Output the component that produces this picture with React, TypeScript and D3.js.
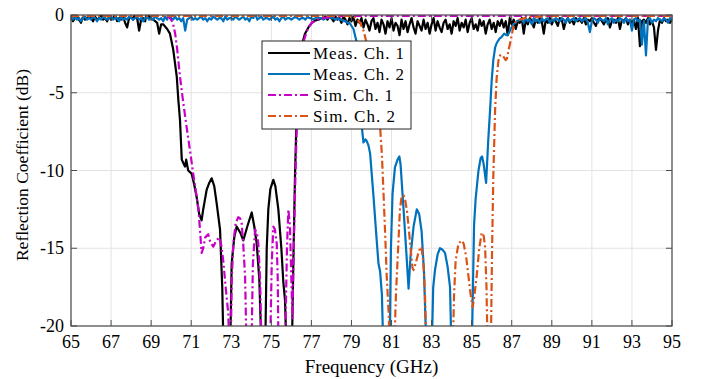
import * as d3 from "d3";

type Pt = [number, number];

const xTicks = [65, 67, 69, 71, 73, 75, 77, 79, 81, 83, 85, 87, 89, 91, 93, 95];
const yTicks = [0, -5, -10, -15, -20];
const seriesNames = ["Meas. Ch. 1", "Meas. Ch. 2", "Sim. Ch. 1", "Sim. Ch. 2"];
const seriesColors = ["#000000", "#0072BD", "#C800C8", "#D95319"];
const seriesDash = [null, null, "8,3,2,3", "8,3,2,3"];
const legendTextWidths = [91, 91, 80, 82];

// measured ripple sampled every 0.1 GHz
const meas1NoiseA = [
  -0.1, -0.4, -0.2, 0.1, -0.3, -0.5, -0.1, -0.3, -0.2, 0.0,
  -0.2, -0.4, -0.1, -0.3, -0.2, 0.1, -0.3, -0.2, -0.4, -0.1,
  -0.3, -0.2, 0.0, -0.4, -0.2, -0.3, -0.1, -0.5, -0.8, -0.2,
  -0.1, -0.3, 0.1, -0.2, -1.0, -0.3, -0.2, -0.4, 0.3, -0.1,
  -0.2, -0.3, -0.4, -0.5, -1.2, -0.6,
];
const meas1Drop: Pt[] = [
  [69.6, -0.6], [69.8, -0.9], [69.94, -1.2], [70.1, -2.2], [70.28, -3.97], [70.36, -5.5],
  [70.44, -6.75], [70.53, -9.3], [70.6, -9.5], [70.69, -9.75], [70.75, -9.3], [70.85, -10.0],
  [71.02, -10.2], [71.15, -10.9], [71.27, -11.7], [71.4, -12.8], [71.52, -13.2], [71.6, -12.5],
  [71.77, -11.25], [71.9, -10.8], [72.02, -10.5], [72.15, -11.0], [72.27, -12.1], [72.44, -13.8],
  [72.55, -17.5], [72.62, -22], [72.94, -22], [73.02, -16], [73.15, -14.3], [73.27, -13.6],
  [73.45, -14.0], [73.6, -14.5], [73.8, -13.6], [74.02, -12.7], [74.15, -13.6], [74.27, -14.7],
  [74.4, -17], [74.52, -22], [74.69, -22], [74.77, -15], [74.85, -12.5], [74.95, -11.2],
  [75.1, -10.6], [75.2, -11.0], [75.35, -12.5], [75.5, -15], [75.6, -17.2], [75.68, -18.3],
  [75.77, -22], [76.02, -22], [76.1, -15.8], [76.18, -10.4], [76.27, -6.1], [76.35, -4.2],
  [76.43, -2.9], [76.55, -1.8], [76.68, -1.2], [76.85, -0.8], [77.02, -0.5], [77.2, -0.35],
  [77.35, -0.3], [77.5, -0.2],
];
const meas1NoiseB = [
  -0.2, -0.1, -0.3, -0.1, -0.2, -0.4, -0.1, -0.3, -0.2, -0.5,
  -0.1, -0.3, -0.6, -0.2, -0.4, -0.1, -0.7, -0.3, -0.5, -0.2,
  -0.8, -0.3, -0.6, -1.0, -0.4, -0.2, -0.9, -0.5, -1.1, -0.3,
  -0.6, -1.2, -0.4, -0.8, -0.2, -1.0, -0.5, -0.7, -1.3, -0.3,
  -0.9, -0.4, -1.1, -0.6, -0.2, -0.8, -1.2, -0.4, -0.7, -1.0,
  -0.3, -0.9, -0.5, -1.2, -0.6, -0.2, -1.0, -0.4, -0.8, -1.1,
  -0.5, -0.3, -0.9, -0.6, -1.2, -0.4, -0.7, -0.2, -1.0, -0.5,
  -0.8, -0.3, -1.1, -0.5, -0.2, -0.9, -0.6, -1.0, -0.3, -0.7,
  -0.4, -1.2, -0.6, -0.3, -0.9, -0.5, -1.1, -0.4, -0.7, -0.3,
  -0.8, -0.4, -1.3, -0.2, -0.6, -0.3, -0.9, -0.4, -0.5, -0.2,
  -1.2, -0.3, -0.6, -0.2, -0.4, -0.8, -0.3, -0.5, -0.2, -0.4,
  -1.2, -0.3, -0.5, -0.2, -0.6, -0.3, -0.4, -0.7, -0.2, -0.3,
  -0.9, -0.4, -0.2, -0.5, -0.3, -0.6, -0.2, -0.4, -0.3, -0.5,
  -0.2, -0.6, -0.3, -0.4, -0.2, -0.5, -0.7, -0.3, -0.2, -0.4,
  -0.6, -0.3, -0.2, -0.8, -0.4, -0.3, -0.5, -0.2, -0.9, -0.3,
  -0.4, -0.2, -0.6, -0.3, -0.5, -0.3, -0.9, -0.2, -2.0, -0.4,
  -0.3, -0.5, -0.2, -0.6, -0.4, -0.8, -2.25, -1.0, -0.3, -0.5,
  -0.2, -0.4, -0.3, -0.5, -0.3,
];

const meas2NoiseA = [
  -0.2, -0.3, -0.1, -0.3, -0.2, -0.4, -0.2, -0.1, -0.3, -0.2,
  -0.3, -0.1, -0.2, -0.4, -0.2, -0.3, -0.1, -0.2, -0.3, -0.2,
  -0.1, -0.3, -0.2, -0.2, -0.4, -0.1, -0.3, -0.2, -0.3, -0.1,
  -0.2, -0.3, -0.2, -0.1, -0.3, -0.2, -0.4, -0.2, -0.1, -0.3,
  -0.2, -0.3, -0.1, -0.2, -0.3, -0.2, -0.4, -0.1, -0.3, 0.2,
  -0.2, -0.3, -0.1, -0.3, -0.2, -0.4, -0.2, -1.0, -0.3, -0.2,
  -0.1, -0.3, -0.2, -0.3, -0.2, -0.1, -0.3, -0.2, -0.4, -0.2,
  -0.3, -0.1, -0.2, -0.3, -0.2, -0.2, -0.4, -0.1, -0.3, -0.2,
  -0.2, -0.3, -0.1, -0.2, -0.3, -0.2, -0.1, -0.3, -0.2, -0.4,
  -0.1, -0.2, 0.1, -0.3, -0.2, -0.1, -0.3, -0.2, -0.2, -0.3,
  -0.2, -0.1, -0.3, -0.2, -0.4, -0.2, -0.1, -0.3, -0.2, -0.2,
  -0.3, -0.2, -0.1, -0.2, -0.3, -0.2, -0.2, -0.3, -0.1, -0.2,
  -0.2, -0.3, -0.2, -0.1, -0.2, -0.2, -0.3, -0.2, -0.2, -0.1,
  -0.2, -0.2, -0.3, -0.2, -0.3, -0.3, -0.4, -0.4, -0.5,
];
const meas2Drop: Pt[] = [
  [78.9, -0.5], [79.1, -0.9], [79.27, -1.8], [79.35, -3.5], [79.43, -5.5], [79.5, -7.0],
  [79.6, -8.2], [79.7, -8.0], [79.76, -8.1], [79.85, -8.4], [79.93, -8.9], [80.09, -11.5],
  [80.26, -14.5], [80.35, -16.0], [80.43, -16.5], [80.52, -18], [80.6, -22], [80.9, -22],
  [80.97, -15], [81.05, -11.5], [81.17, -9.8], [81.3, -9.3], [81.39, -9.1], [81.45, -9.6],
  [81.6, -12.5], [81.75, -15.5], [81.85, -17.6], [81.95, -15.5], [82.1, -13.6], [82.26, -12.5],
  [82.38, -12.8], [82.5, -13.9], [82.62, -16.5], [82.75, -22], [83.0, -22], [83.08, -17.5],
  [83.17, -16.4], [83.3, -15.4], [83.42, -15.0], [83.55, -15.1], [83.67, -15.3], [83.8, -16.2],
  [83.92, -17.5], [84.0, -22], [85.0, -22], [85.12, -13.5], [85.2, -11.8], [85.34, -10.0],
  [85.45, -9.2], [85.52, -9.1], [85.6, -9.6], [85.72, -10.8], [85.83, -8.0], [85.92, -6.1],
  [86.0, -4.2], [86.08, -2.9], [86.17, -2.1], [86.25, -1.8], [86.4, -1.5], [86.5, -1.4],
  [86.62, -1.2], [86.75, -1.3], [86.84, -1.2], [86.95, -0.9], [87.08, -0.6], [87.25, -0.4],
  [87.42, -0.3],
];
const meas2NoiseB = [
  -0.3, -0.5, -0.2, -0.4, -0.3, -0.6, -0.2, -0.4, -0.3, -0.5,
  -0.2, -0.4, -0.3, -0.2, -0.5, -0.3, -0.4, -0.2, -0.3, -0.4,
  -0.2, -0.3, -0.5, -0.2, -0.4, -0.3, -0.2, -0.4, -0.3, -0.2,
  -0.4, -0.3, -0.2, -0.5, -1.1, -0.4, -0.2, -0.3, -0.5, -0.2,
  -0.3, -0.4, -0.2, -0.6, -0.3, -0.2, -0.5, -0.3, -0.4, -0.2,
  -0.3, -0.5, -0.2, -0.4, -0.3, -1.0, -0.3, -0.2, -0.4, -0.3,
  -1.9, -0.4, -2.6, -0.3, -0.2, -0.5, -0.3, -0.4, -0.2, -0.3,
  -0.4, -0.2, -0.3, -0.5, -0.2, -0.3,
];

const sim1: Pt[] = [
  [65.0, -0.05], [69.7, -0.05], [69.9, -0.15], [70.0, -0.3], [70.1, -0.6], [70.2, -1.2],
  [70.3, -2.2], [70.44, -3.97], [70.6, -5.6], [70.77, -7.2], [70.95, -8.8], [71.1, -10.2],
  [71.23, -11.3], [71.36, -12.5], [71.45, -14.0], [71.52, -15.3], [71.6, -15.0], [71.7, -14.3],
  [71.85, -14.1], [71.95, -14.6], [72.1, -14.9], [72.25, -14.5], [72.4, -14.3], [72.5, -14.8],
  [72.6, -15.8], [72.72, -17.5], [72.85, -19.2], [72.92, -22], [72.97, -22], [73.02, -17.2],
  [73.1, -14.7], [73.22, -13.4], [73.35, -13.0], [73.45, -13.1], [73.52, -13.4], [73.6, -14.8],
  [73.69, -16.8], [73.77, -22], [74.0, -22], [74.08, -16], [74.19, -13.8], [74.28, -14.0],
  [74.35, -14.7], [74.44, -17], [74.52, -22], [74.93, -22], [75.02, -16], [75.1, -13.6],
  [75.18, -13.8], [75.27, -14.7], [75.32, -17], [75.36, -22], [75.68, -22], [75.78, -15],
  [75.85, -12.5], [75.93, -13.6], [76.0, -17], [76.05, -19.5], [76.12, -15], [76.18, -11.5],
  [76.27, -7.2], [76.35, -4.8], [76.43, -3.3], [76.55, -2.0], [76.68, -1.4], [76.85, -0.8],
  [77.02, -0.5], [77.3, -0.3], [77.6, -0.2], [78.0, -0.1], [79.0, -0.05], [95.0, -0.05],
];

const sim2: Pt[] = [
  [65.0, -0.05], [78.8, -0.05], [79.1, -0.1], [79.3, -0.3], [79.43, -0.5], [79.6, -1.0],
  [79.76, -1.8], [79.93, -2.8], [80.1, -4.0], [80.27, -5.5], [80.43, -7.2], [80.52, -9.0],
  [80.6, -11.5], [80.68, -14], [80.76, -16.8], [80.85, -19], [80.93, -22], [81.12, -22],
  [81.22, -18], [81.34, -14.7], [81.42, -12.5], [81.5, -11.7], [81.6, -11.6], [81.68, -11.9],
  [81.77, -12.6], [81.85, -13.6], [81.95, -15], [82.05, -16.3], [82.1, -16.4], [82.2, -16.0],
  [82.34, -15.3], [82.45, -14.9], [82.5, -15.0], [82.59, -15.9], [82.67, -18], [82.75, -22],
  [84.05, -22], [84.12, -18], [84.2, -15.8], [84.34, -14.7], [84.5, -14.5], [84.6, -14.7],
  [84.72, -15.5], [84.84, -16.8], [84.95, -18], [85.05, -18.8], [85.12, -18.2], [85.25, -16.8],
  [85.38, -15], [85.5, -14.0], [85.6, -14.2], [85.67, -14.9], [85.74, -17.5], [85.8, -22],
  [85.95, -22], [86.02, -15], [86.08, -10.4], [86.17, -6.1], [86.25, -4.0], [86.34, -2.9],
  [86.42, -2.6], [86.5, -2.55], [86.6, -2.7], [86.7, -2.9], [86.76, -2.8], [86.85, -2.2],
  [86.92, -1.8], [87.0, -1.3], [87.08, -0.75], [87.2, -0.45], [87.4, -0.3], [87.8, -0.15],
  [88.4, -0.1], [89.0, -0.05], [95.0, -0.05],
];

// attach the 0.1 GHz sample frequencies to a ripple list
function sampled(start: number, values: number[]): Pt[] {
  return values.map((v, i) => [Math.round((start + i * 0.1) * 100) / 100, v] as Pt);
}

const meas1: Pt[] = [...sampled(65.0, meas1NoiseA), ...meas1Drop, ...sampled(77.6, meas1NoiseB)];
const meas2: Pt[] = [...sampled(65.0, meas2NoiseA), ...meas2Drop, ...sampled(87.5, meas2NoiseB)];
const allSeries = [meas1, meas2, sim1, sim2];

const font = "'Liberation Serif', 'Times New Roman', serif";

export default function App() {
  const width = 707;
  const height = 379;
  const margin = { top: 15, right: 35, bottom: 53, left: 71 };
  const innerW = width - margin.left - margin.right;
  const innerH = height - margin.top - margin.bottom;

  const x = d3.scaleLinear().domain([65, 95]).range([0, innerW]);
  const y = d3.scaleLinear().domain([-20, 0]).range([innerH, 0]);

  const line = d3.line<Pt>()
    .x(d => x(d[0]))
    .y(d => y(d[1]));

  const axisColor = "#4d4d4d";
  const tickLen = 6;

  const legend = { x: 262 - margin.left, y: 41 - margin.top, w: 149, h: 88 };

  return (
    <svg width={width} height={height} style={{ position: "absolute", left: 0, top: 0, background: "#fff" }}>
      <defs>
        <clipPath id="plot-clip">
          <rect x={0} y={0} width={innerW} height={innerH} />
        </clipPath>
      </defs>
      <g transform={`translate(${margin.left},${margin.top})`}>
        {/* grid */}
        {xTicks.map(t => (
          <line key={"gx" + t} x1={x(t)} x2={x(t)} y1={0} y2={innerH} stroke="#e3e3e3" strokeWidth={1} />
        ))}
        {yTicks.map(t => (
          <line key={"gy" + t} x1={0} x2={innerW} y1={y(t)} y2={y(t)} stroke="#e3e3e3" strokeWidth={1} />
        ))}

        {/* curves */}
        <g clipPath="url(#plot-clip)">
          {allSeries.map((s, i) => (
            <path
              key={"s" + i}
              d={line(s) ?? ""}
              fill="none"
              stroke={seriesColors[i]}
              strokeWidth={2.2}
              strokeDasharray={seriesDash[i] ?? undefined}
              strokeLinejoin="round"
            />
          ))}
        </g>

        {/* axes box and ticks */}
        <rect x={0} y={0} width={innerW} height={innerH} fill="none" stroke={axisColor} strokeWidth={1.2} />
        {xTicks.map(t => (
          <g key={"tx" + t}>
            <line x1={x(t)} x2={x(t)} y1={innerH} y2={innerH - tickLen} stroke={axisColor} />
            <line x1={x(t)} x2={x(t)} y1={0} y2={tickLen} stroke={axisColor} />
            <text x={x(t)} y={innerH + 22} textAnchor="middle" fontFamily={font} fontSize={18} fill="#000">{t}</text>
          </g>
        ))}
        {yTicks.map(t => (
          <g key={"ty" + t}>
            <line x1={0} x2={tickLen} y1={y(t)} y2={y(t)} stroke={axisColor} />
            <line x1={innerW} x2={innerW - tickLen} y1={y(t)} y2={y(t)} stroke={axisColor} />
            <text x={-7} y={y(t) + 6} textAnchor="end" fontFamily={font} fontSize={18} fill="#000">{t}</text>
          </g>
        ))}

        {/* axis labels */}
        <text
          x={innerW / 2}
          y={innerH + 47}
          textAnchor="middle"
          fontFamily={font}
          fontSize={19}
          fill="#000"
        >
          Frequency (GHz)
        </text>
        <text
          transform={`translate(${22 - margin.left},${165 - margin.top}) rotate(-90)`}
          textAnchor="middle"
          dy="0.35em"
          fontFamily={font}
          fontSize={17.5}
          fill="#000"
        >
          Reflection Coefficient (dB)
        </text>

        {/* legend */}
        <rect x={legend.x} y={legend.y} width={legend.w} height={legend.h} fill="#fff" stroke="#262626" strokeWidth={1} />
        {seriesNames.map((name, i) => {
          const ly = legend.y + 12 + i * 21;
          return (
            <g key={"lg" + i}>
              <line
                x1={legend.x + 6}
                x2={legend.x + 48}
                y1={ly}
                y2={ly}
                stroke={seriesColors[i]}
                strokeWidth={2.2}
                strokeDasharray={seriesDash[i] ?? undefined}
              />
              <text
                x={legend.x + 51}
                y={ly + 6}
                fontFamily={font}
                fontSize={17}
                textLength={legendTextWidths[i]}
                lengthAdjust="spacing"
                fill="#000"
              >
                {name}
              </text>
            </g>
          );
        })}
      </g>
    </svg>
  );
}
